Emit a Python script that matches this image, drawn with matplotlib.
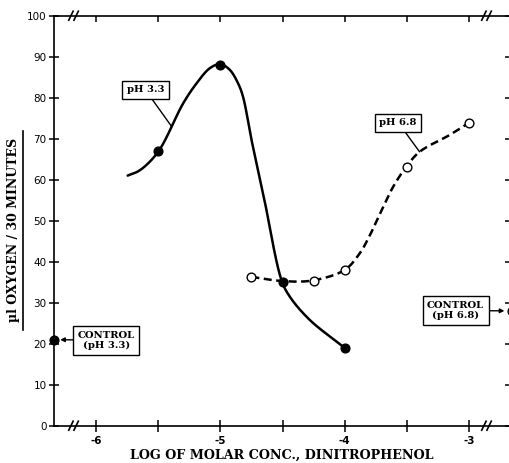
import numpy as np
import matplotlib
matplotlib.use("Agg")
import matplotlib.pyplot as plt
from matplotlib.lines import Line2D

# ---- data ----
ph33_x = [-5.5, -5.0, -4.5, -4.0]
ph33_y = [67, 88, 35, 19]
# traced path of the hand-drawn pH 3.3 curve
ph33_curve_x = [-5.745, -5.647, -5.5, -5.299, -5.191, -5.084, -5.0, -4.924,
                -4.857, -4.817, -4.749, -4.709, -4.645, -4.508, -4.442,
                -4.281, -4.014]
ph33_curve_y = [61.0, 62.3, 66.8, 78.6, 83.5, 87.2, 88.2, 86.8,
                83.5, 80.2, 69.7, 64.0, 55.0, 35.5, 31.5,
                25.8, 19.3]

ph68_x = [-4.75, -4.25, -4.0, -3.5, -3.0]
ph68_y = [36.3, 35.4, 38.0, 63.2, 73.8]
# traced path of the dashed pH 6.8 curve
ph68_curve_x = [-4.75, -4.508, -4.263, -4.0, -3.88, -3.81, -3.69, -3.61, -3.504,
                -3.398, -3.157, -3.004]
ph68_curve_y = [36.3, 35.3, 35.4, 38.0, 42.0, 45.7, 53.4, 58.3, 63.2,
                66.8, 70.9, 73.8]

control_ph33 = 21
control_ph68 = 28

x_major = [-6, -5, -4, -3]
x_minor = [-5.5, -4.5, -3.5]
y_ticks = [0, 10, 20, 30, 40, 50, 60, 70, 80, 90, 100]
x_labels = ["-6", "-5", "-4", "-3"]

XMIN, XMAX = -6.337, -2.655
SX, SY = 124.5, 4.1  # approx. screen pixels per data unit (for smoothing only)


def centripetal_cr(xs, ys, n=30):
    P = np.column_stack([np.asarray(xs, float) * SX, np.asarray(ys, float) * SY])
    P = np.vstack([2 * P[0] - P[1], P, 2 * P[-1] - P[-2]])
    out = []
    for i in range(1, len(P) - 2):
        p0, p1, p2, p3 = P[i - 1], P[i], P[i + 1], P[i + 2]
        t0 = 0.0
        t1 = t0 + np.linalg.norm(p1 - p0) ** 0.5
        t2 = t1 + np.linalg.norm(p2 - p1) ** 0.5
        t3 = t2 + np.linalg.norm(p3 - p2) ** 0.5
        t = np.linspace(t1, t2, n, endpoint=False)[:, None]
        a1 = (t1 - t) / (t1 - t0) * p0 + (t - t0) / (t1 - t0) * p1
        a2 = (t2 - t) / (t2 - t1) * p1 + (t - t1) / (t2 - t1) * p2
        a3 = (t3 - t) / (t3 - t2) * p2 + (t - t2) / (t3 - t2) * p3
        b1 = (t2 - t) / (t2 - t0) * a1 + (t - t0) / (t2 - t0) * a2
        b2 = (t3 - t) / (t3 - t1) * a2 + (t - t1) / (t3 - t1) * a3
        c = (t2 - t) / (t2 - t1) * b1 + (t - t1) / (t2 - t1) * b2
        out.append(c)
    out.append(P[-2][None, :])
    out = np.vstack(out)
    return out[:, 0] / SX, out[:, 1] / SY


fig = plt.figure(figsize=(5.10, 4.63), dpi=100)
ax = fig.add_axes([54 / 510, (463 - 425.7) / 463, (512 - 54) / 510, 410 / 463])
ax.set_xlim(XMIN, XMAX)
ax.set_ylim(0, 100)

serif = ["DejaVu Serif"]
sans = ["DejaVu Sans"]

# curves
cx, cy = centripetal_cr(ph33_curve_x, ph33_curve_y)
ax.plot(cx, cy, color="black", lw=1.8, solid_capstyle="round", solid_joinstyle="round",
        zorder=3)
dx, dy = centripetal_cr(ph68_curve_x, ph68_curve_y)
ax.plot(dx, dy, color="black", lw=1.8, linestyle=(0, (3.2, 1.8)), zorder=3)

ax.plot(ph33_x, ph33_y, "o", color="black", ms=6.3, zorder=5)
ax.plot(ph68_x, ph68_y, "o", mfc="white", mec="black", mew=1.0, ms=6.3, zorder=5)

ax.plot([XMIN], [control_ph33], "o", color="black", ms=6.3, zorder=6, clip_on=False)
ax.plot([XMAX], [control_ph68], "o", mfc="white", mec="black", mew=1.0, ms=6.3,
        zorder=6, clip_on=False)

# spines / ticks
for s in ax.spines.values():
    s.set_linewidth(1.2)
ax.set_xticks(x_major)
ax.set_xticklabels(x_labels, fontsize=7.5, fontweight="bold", family=sans)
ax.set_xticks(x_minor, minor=True)
ax.tick_params(axis="x", which="both", direction="inout", length=8.5, width=1.1,
               top=True, pad=3)
ax.set_yticks(y_ticks)
ax.set_yticklabels([str(v) for v in y_ticks], fontsize=7.5, family=sans)
ax.tick_params(axis="y", which="major", direction="inout", length=6.5, width=1.1,
               right=True, pad=2)
for t in ax.xaxis.get_major_ticks() + ax.xaxis.get_minor_ticks():
    t.tick2line.set_marker(3)  # TICKDOWN (inward on top)
    t.tick2line.set_markersize(4)
for t in ax.yaxis.get_major_ticks():
    t.tick2line.set_marker(0)  # TICKLEFT (inward on right)
    t.tick2line.set_markersize(5)


# axis break marks
def brk(xpos, ypos):
    X, Y = ax.transData.transform((xpos, ypos))
    inv = fig.transFigure.inverted()
    for off in (-2.6, 2.6):
        a = inv.transform((X + off - 2.2, Y - 4.5))
        b = inv.transform((X + off + 2.2, Y + 4.5))
        fig.add_artist(Line2D([a[0], b[0]], [a[1], b[1]], color="black", lw=1.2))


for xb in (-6.18, -2.86):
    brk(xb, 0)
    brk(xb, 100)

# axis labels
fig.text(282 / 510, 1 - 455 / 463, "LOG OF MOLAR CONC., DINITROPHENOL", ha="center",
         va="center", fontsize=9.2, fontweight="bold", family=serif)
fig.text(14 / 510, 1 - 230 / 463, "\u00b5l OXYGEN / 30 MINUTES", ha="center", va="center",
         rotation=90, fontsize=9.0, fontweight="bold", family=serif)
fig.add_artist(Line2D([23 / 510, 23 / 510], [1 - 131 / 463, 1 - 330 / 463],
                      color="black", lw=1.2))

box = dict(boxstyle="square,pad=0.45", fc="white", ec="black", lw=1.0)
ax.annotate("pH 3.3", xy=(-5.392, 73.0), xytext=(-5.602, 81.9), ha="center", va="center",
            fontsize=7.2, fontweight="bold", family=serif, bbox=box,
            arrowprops=dict(arrowstyle="-", lw=1.0, color="black", shrinkA=0, shrinkB=0))
ax.annotate("pH 6.8", xy=(-3.398, 66.8), xytext=(-3.570, 73.95), ha="center", va="center",
            fontsize=7.2, fontweight="bold", family=serif, bbox=box,
            arrowprops=dict(arrowstyle="-", lw=1.0, color="black", shrinkA=0, shrinkB=0))
ax.annotate("CONTROL\n(pH 3.3)", xy=(XMIN, control_ph33), xytext=(-5.916, 20.8),
            ha="center", va="center", fontsize=7.2, fontweight="bold", family=serif,
            bbox=box, linespacing=1.15, annotation_clip=False,
            arrowprops=dict(arrowstyle="-|>,head_length=0.35,head_width=0.18", lw=1.0,
                            color="black", shrinkA=0, shrinkB=4.5))
ax.annotate("CONTROL\n(pH 6.8)", xy=(XMAX, control_ph68), xytext=(-3.108, 28.1),
            ha="center", va="center", fontsize=7.2, fontweight="bold", family=serif,
            bbox=box, linespacing=1.15, annotation_clip=False,
            arrowprops=dict(arrowstyle="-|>,head_length=0.35,head_width=0.18", lw=1.0,
                            color="black", shrinkA=0, shrinkB=5.5))

fig.savefig("out.png", dpi=100)
